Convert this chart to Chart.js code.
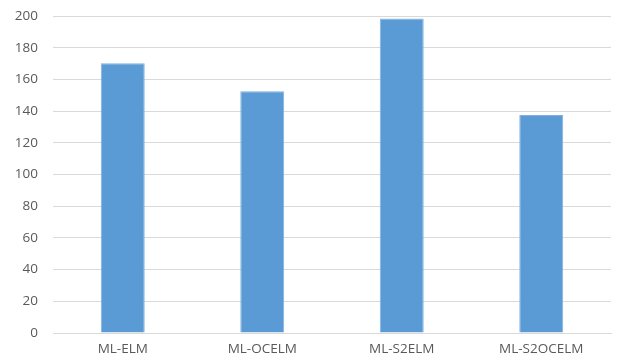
<!DOCTYPE html>
<html>
<head>
<meta charset="utf-8">
<script src="https://cdn.jsdelivr.net/npm/chart.js@4/dist/chart.umd.min.js"></script>
<style>
  html, body { margin: 0; padding: 0; background: #fff; }
  #wrap { width: 619px; height: 360px; }
</style>
</head>
<body>
<div id="wrap"><canvas id="c" width="619" height="360"></canvas></div>
<script>
// Model names on the category axis
const categories = ['ML-ELM', 'ML-OCELM', 'ML-S2ELM', 'ML-S2OCELM'];
// Measured value for each model
const values = [170.2, 152.5, 198.4, 137.5];
// Value axis range and step
const yMin = 0;
const yMax = 200;
const yStep = 20;

const labelColor = '#595959';
const gridColor = '#d9d9d9';
const barColor = '#5b9bd5';
const tickFont = { family: 'Open Sans', size: 13.5 };

new Chart(document.getElementById('c'), {
  type: 'bar',
  data: {
    labels: categories,
    datasets: [{
      data: values,
      backgroundColor: barColor,
      borderColor: '#7fb2e0',
      borderWidth: 1,
      categoryPercentage: 1,
      barPercentage: 0.315
    }]
  },
  options: {
    responsive: false,
    animation: false,
    devicePixelRatio: 1,
    layout: { padding: { top: 16, right: 8, left: 0, bottom: 0 } },
    plugins: { legend: { display: false }, tooltip: { enabled: false } },
    scales: {
      x: {
        grid: { display: false, drawTicks: false },
        border: { display: true, color: gridColor, width: 1 },
        ticks: { color: labelColor, font: tickFont, padding: 8, maxRotation: 0 },
        afterFit(s) { s.height = 27; s.paddingLeft = 0; s.paddingRight = 0; }
      },
      y: {
        min: yMin,
        max: yMax,
        grid: { color: gridColor, lineWidth: 1, drawTicks: false },
        border: { display: false },
        ticks: { stepSize: yStep, color: labelColor, font: tickFont, padding: 15 },
        afterFit(s) { s.width = 53; s.paddingTop = 0; s.paddingBottom = 0; }
      }
    }
  }
});
</script>
</body>
</html>
